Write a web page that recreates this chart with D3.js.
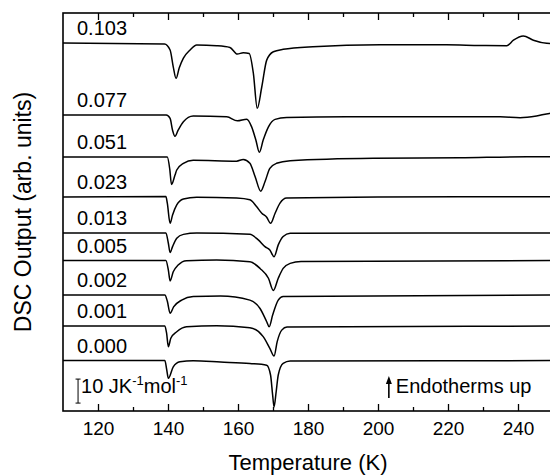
<!DOCTYPE html>
<html>
<head>
<meta charset="utf-8">
<title>DSC</title>
<script src="https://d3js.org/d3.v7.min.js"></script>
<style>
  body { margin: 0; background: #fff; }
  text { font-family: "Liberation Sans", Arial, sans-serif; fill: #000; }
</style>
</head>
<body>
<script>
// composition labels, top curve first
var labels = ["0.103", "0.077", "0.051", "0.023", "0.013", "0.005", "0.002", "0.001", "0.000"];
// vertical offset of each curve baseline (J K-1 mol-1)
var offsets = [153.3, 123.3, 105.8, 89.2, 74.2, 62.7, 48.3, 35.4, 21.0];

// [T (K), signal relative to baseline (J K-1 mol-1)]
var c103 = [[110,0],[139,-0.4],[140.6,-2.9],[141.5,-9.9],[142.3,-14.7],[143.2,-10.4],[144.4,-6.3],[146.3,-2.9],[148.2,-0.8],[153.9,-1.1],[157.7,-1.8],[159.8,-4.6],[161.5,-4.0],[163.2,-4.3],[164.4,-12.7],[165.5,-27.2],[166.8,-18.2],[168.2,-7.1],[170.1,-3.6],[172.9,-2.6],[181.4,-1.5],[200.6,-0.7],[219.6,-0.7],[229.1,-1.0],[236.8,-1.1],[238.7,1.2],[241.5,3.0],[244.4,1.2],[248.2,-0.1],[250,-0.2]];
var c077 = [[110,0],[139.5,0],[140.6,-1.4],[141.3,-6.3],[142,-8.8],[142.9,-6.3],[144.4,-2.8],[147.2,-0.4],[156.8,-0.7],[159.8,-2.4],[162.5,-1.7],[163.9,-4.9],[165.1,-10.4],[166.1,-15.5],[167.2,-10.4],[168.7,-4.9],[170.6,-1.8],[173.9,-1.0],[191,-0.7],[234.9,-0.7],[240.6,-1.1],[245.3,-0.4],[249,0.7],[250,0.8]];
var c051 = [[110,0],[139.8,0],[140.5,-5],[141,-11.4],[142,-7.5],[142.5,-5.4],[144.4,-2.6],[147.2,-1.3],[159.6,-1.7],[161.5,-1.0],[163.4,-2.6],[164.9,-8.2],[166.5,-14.2],[167.7,-10.3],[169.1,-4.7],[171,-2.6],[174.9,-1.5],[198.6,-0.5],[223.4,-0.3],[242.5,0.1],[250,0.1]];
var c023 = [[110,0],[139.4,0.2],[139.8,-2.6],[140.6,-11.0],[141.3,-7.5],[142.5,-3.3],[144.4,-0.9],[148.2,-0.1],[159.6,-0.5],[163.4,-1.2],[165.3,-4.0],[166.8,-6.8],[168.2,-8.5],[169.3,-11.0],[170.6,-6.8],[172,-2.6],[173.9,-0.5],[200,0],[250,0.1]];
var c013 = [[110,0],[139.4,0],[140.1,-4.3],[140.6,-8.2],[141.3,-5.7],[142.5,-2.2],[144.4,-0.6],[148.2,0],[163.4,-0.6],[165.8,-2.9],[167.7,-5.7],[169.1,-7.1],[170.3,-9.9],[171.5,-5.0],[172.9,-1.5],[174.9,-0.1],[250,0]];
var c005 = [[110,0],[139.4,0],[140.1,-4.0],[140.6,-8.5],[141.5,-4.7],[142.9,-1.9],[145.3,-0.1],[153.9,0.2],[163.4,-0.5],[166.3,-3.3],[168.7,-7.4],[170.1,-12.5],[171.5,-7.4],[172.9,-3.3],[174.9,-1.2],[178,-0.4],[250,0]];
var c002 = [[110,0],[139.1,0],[139.8,-2.5],[140.6,-7.6],[141.6,-4.9],[143.9,-2.1],[147.2,-0.6],[155,-0.4],[163.4,-2.1],[166.3,-5.6],[168.2,-11.1],[168.9,-13.2],[169.9,-8.3],[171.5,-2.1],[172.9,-0.6],[250,0]];
var c001 = [[110,0],[139.1,0],[139.6,-3],[140.1,-8.6],[140.8,-5.1],[142.5,-2.4],[145.3,-0.3],[153.9,0.1],[163.4,-0.7],[167.2,-4.4],[169.1,-9.3],[170.3,-12.5],[171.2,-6.5],[172.5,-1.7],[174,-0.4],[250,0]];
var c000 = [[110,0],[139.1,0],[139.6,-3.5],[140.1,-7.4],[141.5,-2.6],[143.4,-0.5],[147.2,-0.1],[155,-0.6],[163.4,-1.2],[168.2,-1.9],[169.3,-6.0],[169.9,-14.4],[170.3,-19.3],[170.9,-13.0],[171.5,-6.0],[172.9,-1.2],[174.9,-0.2],[250,0]];
var curves = [c103, c077, c051, c023, c013, c005, c002, c001, c000];

var xTicks = [120, 140, 160, 180, 200, 220, 240];
var xMinor = [130, 150, 170, 190, 210, 230, 250];
var scaleBar = [3.3, 13.3];   // 10 J K-1 mol-1
var scaleBarT = 114.3;
var arrowT = 203.1;

var W = 550, H = 475;
var mL = 63, mR = 553, mT = 13, mB = 411;

var svg = d3.select("body").append("svg")
    .attr("width", W).attr("height", H);

var x = d3.scaleLinear().domain([110, 250]).range([mL, mR]);
var y = d3.scaleLinear().domain([0, (mB - mT) / 2.4]).range([mB, mT]);

// frame
svg.append("rect")
    .attr("x", mL).attr("y", mT)
    .attr("width", mR - mL).attr("height", mB - mT)
    .attr("fill", "none").attr("stroke", "#000").attr("stroke-width", 1.6);

// ticks bottom (inward) with labels
var xAxisB = d3.axisBottom(x).tickValues(xTicks).tickSize(-7).tickPadding(11).tickFormat(d3.format("d"));
var gb = svg.append("g").attr("transform", "translate(0," + mB + ")").call(xAxisB);
gb.select(".domain").remove();
gb.selectAll("line").attr("stroke-width", 1.3);
gb.selectAll("text").attr("font-size", 19).attr("font-family", "Liberation Sans, Arial, sans-serif");

var gbm = svg.append("g").attr("transform", "translate(0," + mB + ")")
    .call(d3.axisBottom(x).tickValues(xMinor).tickSize(-4).tickFormat(""));
gbm.select(".domain").remove();
gbm.selectAll("line").attr("stroke-width", 1.3);

// ticks top (inward)
var gt = svg.append("g").attr("transform", "translate(0," + mT + ")")
    .call(d3.axisTop(x).tickValues(xTicks).tickSize(-7).tickFormat(""));
gt.select(".domain").remove();
gt.selectAll("line").attr("stroke-width", 1.3);
var gtm = svg.append("g").attr("transform", "translate(0," + mT + ")")
    .call(d3.axisTop(x).tickValues(xMinor).tickSize(-4).tickFormat(""));
gtm.select(".domain").remove();
gtm.selectAll("line").attr("stroke-width", 1.3);

// curves
var line = d3.line()
    .x(function(d) { return x(d[0]); })
    .y(function(d) { return y(d[1]); })
    .curve(d3.curveMonotoneX);

curves.forEach(function(c, i) {
    var pts = c.map(function(p) { return [p[0], p[1] + offsets[i]]; });
    svg.append("path")
        .attr("d", line(pts))
        .attr("fill", "none")
        .attr("stroke", "#000")
        .attr("stroke-width", 1.5);
    svg.append("text")
        .attr("x", x(114))
        .attr("y", y(offsets[i]) - 8)
        .attr("font-size", 20)
        .text(labels[i]);
});

// scale bar
var sbx = x(scaleBarT);
svg.append("line").attr("x1", sbx).attr("x2", sbx)
    .attr("y1", y(scaleBar[0])).attr("y2", y(scaleBar[1]))
    .attr("stroke", "#000").attr("stroke-width", 1);
scaleBar.forEach(function(v) {
    svg.append("line").attr("x1", sbx - 2.5).attr("x2", sbx + 2.5)
        .attr("y1", y(v)).attr("y2", y(v))
        .attr("stroke", "#000").attr("stroke-width", 1);
});
var sbt = svg.append("text").attr("x", sbx + 3).attr("y", 393).attr("font-size", 20);
sbt.append("tspan").text("10 JK");
sbt.append("tspan").attr("font-size", 13).attr("dy", -8).text("-1");
sbt.append("tspan").attr("dy", 8).text("mol");
sbt.append("tspan").attr("font-size", 13).attr("dy", -8).text("-1");

// endotherms arrow
var ax = x(arrowT);
svg.append("line").attr("x1", ax).attr("x2", ax).attr("y1", 398).attr("y2", 382)
    .attr("stroke", "#000").attr("stroke-width", 1.6);
svg.append("path")
    .attr("d", "M" + (ax - 3) + ",384 L" + ax + ",376 L" + (ax + 3) + ",384 Z")
    .attr("fill", "#000");
svg.append("text").attr("x", ax + 7).attr("y", 393).attr("font-size", 20).text("Endotherms up");

// axis titles
svg.append("text")
    .attr("x", (mL + mR) / 2).attr("y", 470)
    .attr("text-anchor", "middle").attr("font-size", 22)
    .text("Temperature (K)");
svg.append("text")
    .attr("transform", "translate(31," + ((mT + mB) / 2) + ") rotate(-90)")
    .attr("text-anchor", "middle").attr("font-size", 23)
    .text("DSC Output (arb. units)");
</script>
</body>
</html>
